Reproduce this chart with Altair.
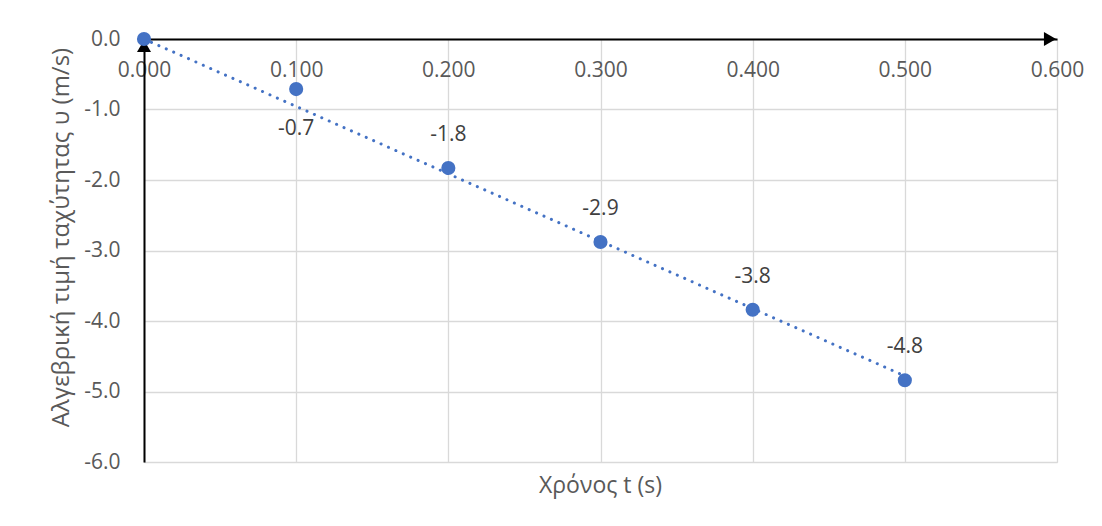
import altair as alt
import pandas as pd

# Data
t_values = [0.0, 0.1, 0.2, 0.3, 0.4, 0.5]
v_values = [0.0, -0.71, -1.83, -2.88, -3.84, -4.84]
x_ticks = [0.0, 0.1, 0.2, 0.3, 0.4, 0.5, 0.6]
y_ticks = [0.0, -1.0, -2.0, -3.0, -4.0, -5.0, -6.0]
x_title = "Χρόνος t (s)"
y_title = "Αλγεβρική τιμή ταχύτητας υ (m/s)"

BLUE = "#4472C4"
GRID = "#d9d9d9"
LABEL = "#595959"
FONT = "Open Sans"

df = pd.DataFrame({"t": t_values, "v": v_values})

# linear trendline through the origin (least squares)
slope = sum(a * b for a, b in zip(t_values, v_values)) / sum(a * a for a in t_values)
trend = pd.DataFrame({"t": [min(t_values), max(t_values)],
                      "v": [slope * min(t_values), slope * max(t_values)]})

x_scale = alt.Scale(domain=[x_ticks[0], x_ticks[-1]], nice=False, zero=False)
y_scale = alt.Scale(domain=[y_ticks[-1], y_ticks[0]], nice=False, zero=False)

x_axis = alt.Axis(values=x_ticks, format=".3f", orient="bottom", offset=-423,
                  title=None, domainColor="black", domainWidth=2, ticks=False,
                  labelPadding=20, labelFontSize=21, labelColor=LABEL, labelFont=FONT,
                  labelFlush=False, labelOverlap=False,
                  grid=True, gridColor=GRID, gridWidth=1.3)
y_axis = alt.Axis(values=y_ticks, title=y_title, domainColor="black", domainWidth=2, ticks=False,
                  labelExpr="replace(format(datum.value, '.1f'), '\u2212', '-')",
                  labelPadding=24, labelFontSize=21, labelColor=LABEL, labelFont=FONT,
                  labelFlush=False, labelOverlap=False,
                  titleFontSize=24, titleColor=LABEL, titleFont=FONT, titleFontWeight="normal",
                  titlePadding=10, titleY=198,
                  grid=True, gridColor=GRID, gridWidth=1.3)

X = alt.X("t:Q", scale=x_scale, axis=x_axis)
Y = alt.Y("v:Q", scale=y_scale, axis=y_axis)

line = alt.Chart(trend).mark_line(color=BLUE, strokeWidth=3, strokeCap="round",
                                  strokeDash=[0.1, 8]).encode(x=X, y=Y)

arrow_x = alt.Chart(pd.DataFrame({"t": [x_ticks[-1]], "v": [y_ticks[0]]})).mark_point(
    shape="triangle-right", filled=True, color="black", opacity=1, size=196, xOffset=-7
).encode(x="t:Q", y="v:Q")
arrow_y = alt.Chart(pd.DataFrame({"t": [x_ticks[0]], "v": [y_ticks[0]]})).mark_point(
    shape="triangle-up", filled=True, color="black", opacity=1, size=196, yOffset=7
).encode(x="t:Q", y="v:Q")

points = alt.Chart(df).mark_circle(color=BLUE, size=200, opacity=1).encode(x="t:Q", y="v:Q")

lab = "replace(format(datum.v, '.1f'), '\u2212', '-')"
labels_below = alt.Chart(df).transform_filter("datum.t > 0.05 && datum.t < 0.15").transform_calculate(
    lab=lab).mark_text(fontSize=21, font=FONT, color="#404040", dy=40, baseline="middle").encode(
    x="t:Q", y="v:Q", text="lab:N")
labels_above = alt.Chart(df).transform_filter("datum.t > 0.15").transform_calculate(
    lab=lab).mark_text(fontSize=21, font=FONT, color="#404040", dy=-33, baseline="middle").encode(
    x="t:Q", y="v:Q", text="lab:N")

chart = alt.layer(line, arrow_x, arrow_y, points, labels_below, labels_above).properties(
    width=913, height=423,
    title=alt.TitleParams(x_title, orient="bottom", anchor="middle", fontSize=23,
                          fontWeight="normal", color=LABEL, font=FONT, offset=3),
    autosize=alt.AutoSizeParams(type="none"),
    padding={"left": 136, "top": 31, "right": 37, "bottom": 56},
).configure_view(stroke=None).configure(background="white")

chart.save("out.html", embed_options={"renderer": "svg", "actions": False})
